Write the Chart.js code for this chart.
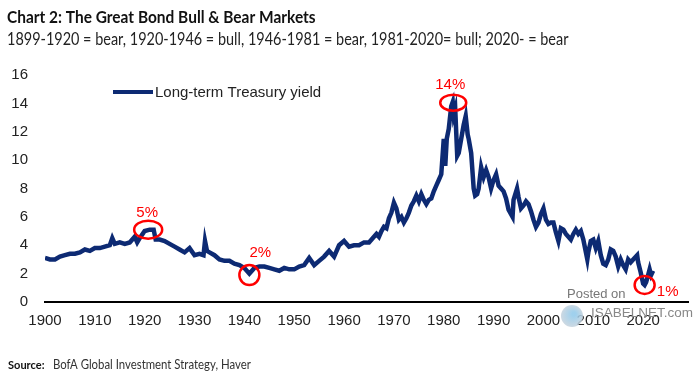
<!DOCTYPE html>
<html>
<head>
<meta charset="utf-8">
<script src="https://cdn.jsdelivr.net/npm/chart.js@4.4.0/dist/chart.umd.min.js"></script>
<style>
  html, body { margin: 0; padding: 0; background: #fff; }
  canvas { display: block; }
</style>
</head>
<body>
<canvas id="bond-chart" width="700" height="380"></canvas>
<script>
// Long-term Treasury yield (%)
const years = [
  1900, 1901, 1902, 1903, 1904, 1905, 1906, 1907, 1908, 1909,
  1910, 1911, 1912, 1913, 1913.5, 1914, 1915, 1916, 1917, 1918, 1918.5, 1919,
  1920, 1921, 1921.8, 1922.2, 1923, 1924, 1925, 1926, 1927, 1928, 1929,
  1930, 1931, 1931.8, 1932.1, 1932.5, 1933, 1934, 1935, 1936, 1937, 1938, 1939,
  1940, 1941, 1942, 1943, 1944, 1945, 1946, 1947, 1948, 1949,
  1950, 1951, 1952, 1953, 1954, 1955, 1956, 1957, 1958, 1959,
  1960, 1961, 1962, 1963, 1964, 1965,
  1966, 1966.5, 1967, 1967.5, 1968, 1968.5, 1969, 1969.5,
  1970, 1970.5, 1971, 1971.5, 1972, 1972.5, 1973, 1973.5, 1974, 1974.5,
  1975, 1975.5, 1976, 1976.5, 1977, 1977.5, 1978, 1978.5, 1979, 1979.5,
  1980, 1980.3, 1980.6, 1981, 1981.5, 1981.8, 1982, 1982.3, 1982.7,
  1983, 1983.5, 1984, 1984.4, 1984.8, 1985, 1985.5, 1986, 1986.3, 1986.7,
  1987, 1987.5, 1988, 1988.5, 1989, 1989.5,
  1990, 1990.5, 1991, 1991.5, 1992, 1992.5, 1993, 1993.8, 1994, 1994.7,
  1995, 1995.5, 1996, 1996.5, 1997, 1997.5, 1998, 1998.5, 1999, 1999.5,
  2000, 2000.5, 2001, 2001.5, 2002, 2002.5, 2003, 2003.5, 2004, 2004.5,
  2005, 2005.5, 2006, 2006.5, 2007, 2007.5, 2008, 2008.8, 2009, 2009.5,
  2010, 2010.5, 2011, 2011.5, 2012, 2012.5, 2013, 2013.5, 2014, 2014.5,
  2015, 2015.5, 2016, 2016.5, 2017, 2017.5, 2018, 2018.8, 2019, 2019.5,
  2020, 2020.3, 2020.6, 2021, 2021.3, 2021.6, 2022
];
const yields = [
  3.1, 3.0, 3.0, 3.2, 3.3, 3.4, 3.4, 3.5, 3.7, 3.6,
  3.8, 3.8, 3.9, 4.0, 4.5, 4.1, 4.2, 4.1, 4.2, 4.6, 4.2, 4.5,
  5.0, 5.1, 5.1, 4.4, 4.4, 4.3, 4.1, 3.9, 3.7, 3.5, 3.8,
  3.3, 3.4, 3.3, 4.3, 3.6, 3.5, 3.3, 3.0, 2.9, 2.9, 2.7, 2.6,
  2.4, 2.0, 2.4, 2.5, 2.5, 2.4, 2.3, 2.2, 2.4, 2.3,
  2.3, 2.5, 2.6, 3.1, 2.6, 2.9, 3.2, 3.6, 3.2, 4.0,
  4.3, 3.9, 4.0, 4.0, 4.2, 4.2,
  4.6, 4.8, 4.6, 5.0, 5.3, 5.2, 5.9, 6.3,
  7.0, 6.6, 5.8, 6.0, 5.6, 5.9, 6.3, 6.8, 7.1, 7.5,
  7.1, 7.6, 7.2, 6.9, 7.2, 7.3, 7.8, 8.2, 8.6, 9.0,
  11.5, 9.6, 11.5, 12.2, 13.8, 14.1, 13.2, 13.6, 10.3,
  10.5, 11.5, 12.5, 13.1, 11.8, 11.5, 10.5, 8.0, 7.5, 7.6,
  8.0, 9.5, 8.8, 9.3, 8.8, 8.0,
  8.6, 9.0, 8.2, 8.0, 7.8, 7.3, 6.5, 6.0, 7.2, 8.0,
  7.4, 6.6, 6.8, 7.1, 6.9, 6.4, 5.8, 5.3, 5.6, 6.2,
  6.6, 5.8, 5.5, 5.6, 5.6, 4.9, 4.3, 5.2, 5.1, 4.8,
  4.6, 4.4, 4.8, 5.1, 4.8, 5.0, 4.4, 3.0, 3.5, 4.3,
  4.4, 3.8, 4.3, 3.3, 2.7, 2.6, 3.0, 3.7, 3.6, 3.2,
  2.5, 3.0, 2.6, 2.3, 3.0, 2.8, 3.0, 3.3, 2.8, 2.1,
  1.3, 1.2, 1.4, 1.9, 2.3, 1.9, 2.2
];
const xTicks = [1900, 1910, 1920, 1930, 1940, 1950, 1960, 1970, 1980, 1990, 2000, 2010, 2020];

// circled turning points
const markYears = [1920.7, 1941.0, 1981.9, 2020.3];
const markValues = [5.1, 1.9, 14.05, 1.2];
const markLabels = ['5%', '2%', '14%', '1%'];
// circle radii and label offsets (px)
const markRx = [14, 10, 13, 10];
const markRy = [9, 10, 8, 9];
const markDx = [-1, 11, -3, 23];
const markDy = [-17, -22, -18, 7];

const lineColor = '#0d2a73';

// squeeze a line of text horizontally (stand-in for the narrow Calibri face)
function narrowText(ctx, text, x, y, sx) {
  ctx.save();
  ctx.translate(x, y);
  ctx.scale(sx, 1);
  ctx.fillText(text, 0, 0);
  ctx.restore();
}

const markerPlugin = {
  id: 'markers',
  afterDatasetsDraw(chart) {
    const { ctx, scales: { x, y } } = chart;
    ctx.save();
    ctx.strokeStyle = '#ff0000';
    ctx.fillStyle = '#ff0000';
    ctx.lineWidth = 2.5;
    ctx.font = '15px "Liberation Sans", Arial, sans-serif';
    ctx.textAlign = 'center';
    ctx.textBaseline = 'middle';
    markYears.forEach((yr, i) => {
      const px = x.getPixelForValue(yr);
      const py = y.getPixelForValue(markValues[i]);
      ctx.beginPath();
      ctx.ellipse(px, py, markRx[i], markRy[i], 0, 0, Math.PI * 2);
      ctx.stroke();
      ctx.fillText(markLabels[i], px + markDx[i], py + markDy[i]);
    });
    ctx.restore();
  }
};

const textPlugin = {
  id: 'texts',
  beforeDraw(chart) {
    const ctx = chart.ctx;
    ctx.save();
    ctx.fillStyle = '#fff';
    ctx.fillRect(0, 0, chart.width, chart.height);
    ctx.restore();
  },
  afterDraw(chart) {
    const ctx = chart.ctx;
    ctx.save();
    ctx.textBaseline = 'alphabetic';
    ctx.textAlign = 'left';
    ctx.fillStyle = '#111';
    ctx.font = 'bold 17px Lato, sans-serif';
    narrowText(ctx, 'Chart 2: The Great Bond Bull & Bear Markets', 7, 23, 0.91);
    ctx.fillStyle = '#222';
    ctx.font = '17px Lato, sans-serif';
    narrowText(ctx, '1899-1920 = bear, 1920-1946 = bull, 1946-1981 = bear, 1981-2020= bull; 2020- = bear', 7, 45, 0.85);

    // legend
    ctx.strokeStyle = lineColor;
    ctx.lineWidth = 4;
    ctx.beginPath();
    ctx.moveTo(113, 92);
    ctx.lineTo(153, 92);
    ctx.stroke();
    ctx.fillStyle = '#222';
    ctx.font = '15px "Liberation Sans", Arial, sans-serif';
    ctx.fillText('Long-term Treasury yield', 155, 97);

    // source
    ctx.fillStyle = '#111';
    ctx.font = 'bold 12px Lato, sans-serif';
    narrowText(ctx, 'Source:', 8, 369, 0.92);
    ctx.fillStyle = '#333';
    ctx.font = '12.5px Lato, sans-serif';
    narrowText(ctx, 'BofA Global Investment Strategy, Haver', 53, 369, 0.91);

    // watermark
    const g = ctx.createRadialGradient(574, 314, 2, 572, 316, 12);
    g.addColorStop(0, '#8fc8ea');
    g.addColorStop(1, '#c9d3dc');
    ctx.globalAlpha = 0.85;
    ctx.fillStyle = g;
    ctx.beginPath();
    ctx.arc(572, 316, 11, 0, Math.PI * 2);
    ctx.fill();
    ctx.globalAlpha = 1;
    ctx.fillStyle = '#777';
    ctx.font = '13px "Liberation Sans", Arial, sans-serif';
    ctx.fillText('Posted on', 567, 298);
    ctx.fillStyle = '#888';
    ctx.font = '13.5px "Liberation Sans", Arial, sans-serif';
    ctx.fillText('ISABELNET.com', 591, 317);
    ctx.restore();
  }
};

const ctx = document.getElementById('bond-chart').getContext('2d');
new Chart(ctx, {
  type: 'line',
  data: {
    datasets: [{
      label: 'Long-term Treasury yield',
      data: years.map((yr, i) => ({ x: yr, y: yields[i] })),
      borderColor: lineColor,
      backgroundColor: lineColor,
      borderWidth: 4.5,
      pointRadius: 0,
      tension: 0,
      fill: false
    }]
  },
  options: {
    responsive: false,
    animation: false,
    layout: {
      padding: { left: 0, top: 75, right: 12, bottom: 0 }
    },
    plugins: {
      legend: { display: false },
      tooltip: { enabled: false }
    },
    scales: {
      x: {
        type: 'linear',
        min: 1900,
        max: 2029,
        afterBuildTicks: (scale) => { scale.ticks = xTicks.map(v => ({ value: v })); },
        afterFit: (scale) => { scale.height = 78; },
        grid: { display: false, drawTicks: false },
        border: { display: true, color: '#000', width: 2 },
        ticks: {
          autoSkip: false,
          maxRotation: 0,
          padding: 10,
          color: '#222',
          font: { size: 15, family: '"Liberation Sans", Arial, sans-serif' },
          callback: (v) => String(v)
        }
      },
      y: {
        min: 0,
        max: 16,
        afterFit: (scale) => { scale.width = 45; },
        grid: { display: false, drawTicks: false },
        border: { display: false },
        ticks: {
          stepSize: 2,
          padding: 17,
          color: '#222',
          font: { size: 15, family: '"Liberation Sans", Arial, sans-serif' }
        }
      }
    }
  },
  plugins: [markerPlugin, textPlugin]
});
</script>
</body>
</html>
